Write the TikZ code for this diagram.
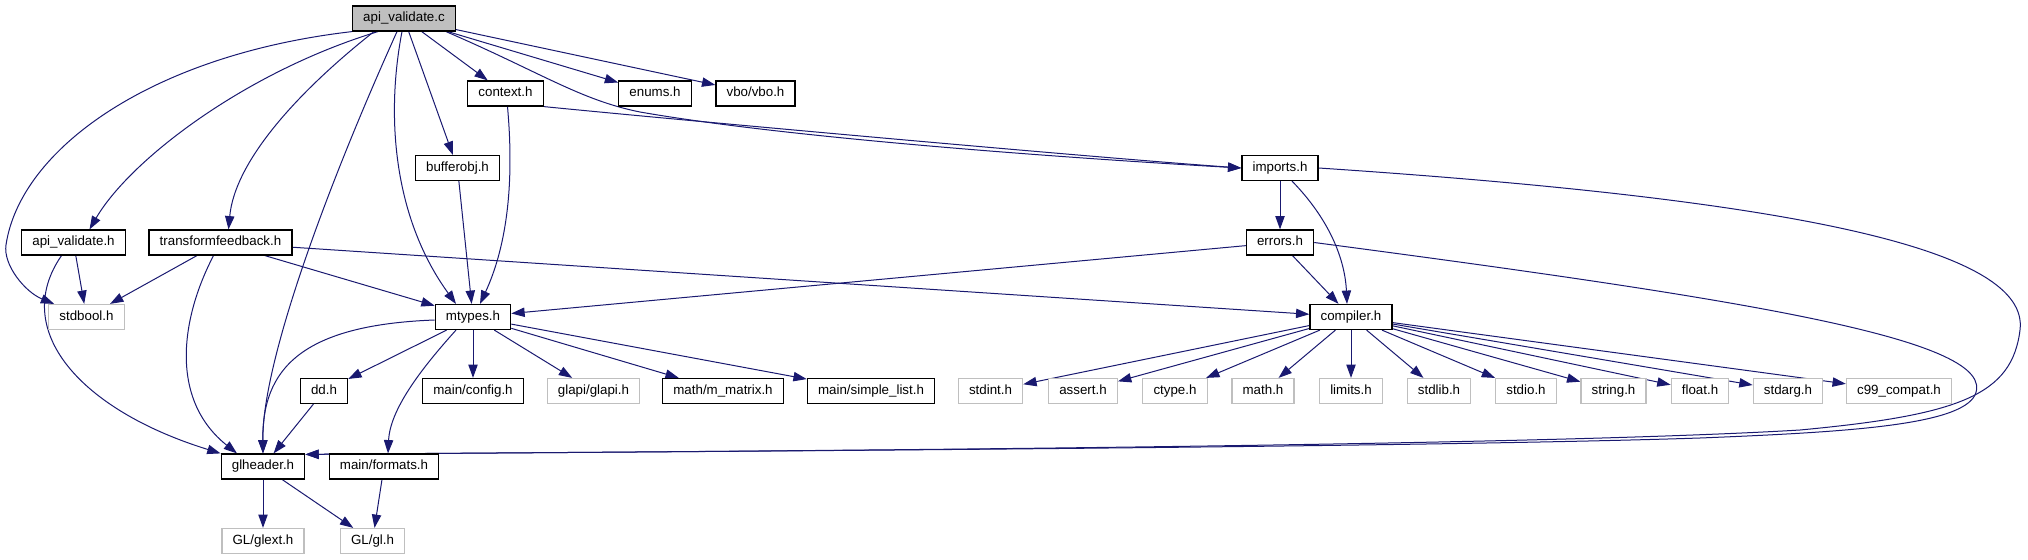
\documentclass[tikz,border=0pt]{standalone}
\usepackage{fontspec}
\setsansfont{Liberation Sans}
\usetikzlibrary{arrows.meta, calc, backgrounds}
\definecolor{midnight}{HTML}{191970}

\begin{document}
\begin{tikzpicture}[
		x=0.75pt, y=-0.75pt,
		font=\sffamily,
		% Style for the header boxes
		hdr/.style={draw=black, line width=0.9pt, fill=white, inner xsep=8pt, inner ysep=0pt,
			minimum height=18.75pt, text height=7.2pt, text depth=2pt},
		sys hdr/.style={hdr, draw=gray!50},
		root hdr/.style={hdr, fill=gray!50},
		% Style for the include arrows
		incl/.style={draw=midnight, line width=0.75pt, -{Triangle[length=10pt, width=7pt]}}
		]
		\useasboundingbox (0,0) rectangle (2028,560);
		
		% TOP ROWS
		\node[root hdr] (avc) at (404,18.5) {api\_validate.c};
		\node[hdr] (context) at (505.5,93.5) {context.h};
		\node[hdr] (enums) at (655,93.5) {enums.h};
		\node[hdr] (vbo) at (755.5,93.5) {vbo/vbo.h};
		\node[hdr] (bufferobj) at (457.5,168) {bufferobj.h};
		\node[hdr] (imports) at (1280,168) {imports.h};
		\node[hdr] (apivh) at (73.5,242.5) {api\_validate.h};
		\node[hdr] (tfb) at (220.5,242.5) {transformfeedback.h};
		\node[hdr] (errors) at (1280,242.5) {errors.h};
		
		% MIDDLE ROW
		\node[sys hdr] (stdbool) at (86.5,317) {stdbool.h};
		\node[hdr] (mtypes) at (473,317) {mtypes.h};
		\node[hdr] (compiler) at (1351,317) {compiler.h};
		
		% ROW BELOW mtypes.h AND compiler.h
		\node[hdr] (dd) at (324,391) {dd.h};
		\node[hdr] (config) at (473,391) {main/config.h};
		\node[sys hdr] (glapi) at (593.5,391) {glapi/glapi.h};
		\node[hdr] (mmatrix) at (723,391) {math/m\_matrix.h};
		\node[hdr] (slist) at (871,391) {main/simple\_list.h};
		\node[sys hdr] (stdint) at (990.5,391) {stdint.h};
		\node[sys hdr] (assert) at (1083,391) {assert.h};
		\node[sys hdr] (ctype) at (1175,391) {ctype.h};
		\node[sys hdr] (math) at (1263,391) {math.h};
		\node[sys hdr] (limits) at (1351,391) {limits.h};
		\node[sys hdr] (stdlib) at (1439,391) {stdlib.h};
		\node[sys hdr] (stdio) at (1526,391) {stdio.h};
		\node[sys hdr] (string) at (1613.5,391) {string.h};
		\node[sys hdr] (float) at (1700,391) {float.h};
		\node[sys hdr] (stdarg) at (1788,391) {stdarg.h};
		\node[sys hdr] (c99) at (1899,391) {c99\_compat.h};
		
		% BOTTOM ROWS
		\node[hdr] (glheader) at (263,466.5) {glheader.h};
		\node[hdr] (formats) at (384,466.5) {main/formats.h};
		\node[sys hdr] (glext) at (263,541) {GL/glext.h};
		\node[sys hdr] (gl) at (372.5,541) {GL/gl.h};
		
		\begin{scope}[on background layer]
			% includes of api_validate.c
			\draw[incl] (avc.south west) .. controls (150,55) and (20,150) .. (6,245)
				.. controls (3,265) and (25,292) .. ($(stdbool.north west)+(6,0)$);
			\draw[incl] ($(avc.south west)+(26,0)$) .. controls (245,72) and (130,160) .. ($(apivh.north)+(16,0)$);
			\draw[incl] ($(avc.south west)+(22,0)$) .. controls (300,90) and (235,160) .. ($(tfb.north)+(8,0)$);
			\draw[incl] ($(avc.south)+(-7,0)$) .. controls (330,180) and (262,360) .. (glheader.north);
			\draw[incl] ($(avc.south)+(-2,0)$) .. controls (385,120) and (395,220) .. ($(mtypes.north)+(-17,0)$);
			\draw[incl] (avc) -- (bufferobj);
			\draw[incl] (avc) -- (context);
			\draw[incl] ($(avc.south)+(42,0)$) .. controls (540,72) and (580,100) .. (640,112)
				.. controls (800,140) and (1100,160) .. (imports.west);
			\draw[incl] (avc) -- (enums);
			\draw[incl] (avc) -- (vbo);
			
			% context.h, bufferobj.h
			\draw[incl] (context.south east) .. controls (700,122) and (1100,158) .. (imports.west);
			\draw[incl] ($(context.south)+(2,0)$) .. controls (515,190) and (505,250) .. ($(mtypes.north)+(7,0)$);
			\draw[incl] (bufferobj) -- (mtypes);
			
			% imports.h, errors.h
			\draw[incl] (imports) -- (errors);
			\draw[incl] ($(imports.south)+(12,0)$) .. controls (1330,220) and (1345,260) .. ($(compiler.north)+(-4,0)$);
			\draw[incl] (imports.east) .. controls (1800,200) and (2030,250) .. (2020,330)
				.. controls (2012,395) and (1960,415) .. (1800,430)
				.. controls (1500,448) and (600,452) .. ($(glheader.north east)+(0,1)$);
			\draw[incl] (errors) -- (mtypes);
			\draw[incl] (errors) -- (compiler);
			\draw[incl] (errors.east) .. controls (1750,300) and (2000,340) .. (1975,395)
				.. controls (1960,425) and (1850,432) .. (1700,438)
				.. controls (1400,448) and (600,452) .. ($(glheader.north east)+(0,1)$);
			
			% api_validate.h, transformfeedback.h
			\draw[incl] (apivh) -- (stdbool);
			\draw[incl] ($(apivh.south)+(-12,0)$) .. controls (10,330) and (80,410) .. (glheader.north west);
			\draw[incl] (tfb) -- (stdbool);
			\draw[incl] (tfb) -- (mtypes);
			\draw[incl] ($(tfb.south)+(-7,0)$) .. controls (180,320) and (170,400) .. ($(glheader.north)+(-26,0)$);
			\draw[incl] (tfb) -- (compiler);
			
			% mtypes.h
			\draw[incl] ($(mtypes.west)+(0,3)$) .. controls (300,325) and (262,370) .. (glheader.north);
			\draw[incl] (mtypes) -- (dd);
			\draw[incl] (mtypes) -- (config);
			\draw[incl] (mtypes) -- (glapi);
			\draw[incl] (mtypes) -- (mmatrix);
			\draw[incl] (mtypes) -- (slist);
			\draw[incl] ($(mtypes.south)+(-17,0)$) .. controls (420,370) and (390,410) .. ($(formats.north)+(4,0)$);
			
			% compiler.h
			\draw[incl] (compiler) -- (stdint);
			\draw[incl] (compiler) -- (assert);
			\draw[incl] (compiler) -- (ctype);
			\draw[incl] (compiler) -- (math);
			\draw[incl] (compiler) -- (limits);
			\draw[incl] (compiler) -- (stdlib);
			\draw[incl] (compiler) -- (stdio);
			\draw[incl] (compiler) -- (string);
			\draw[incl] (compiler) -- (float);
			\draw[incl] (compiler) -- (stdarg);
			\draw[incl] (compiler) -- (c99);
			
			% dd.h, glheader.h, main/formats.h
			\draw[incl] (dd) -- (glheader);
			\draw[incl] (glheader) -- (glext);
			\draw[incl] (glheader) -- (gl);
			\draw[incl] (formats) -- (gl);
		\end{scope}
	\end{tikzpicture}
\end{document}
